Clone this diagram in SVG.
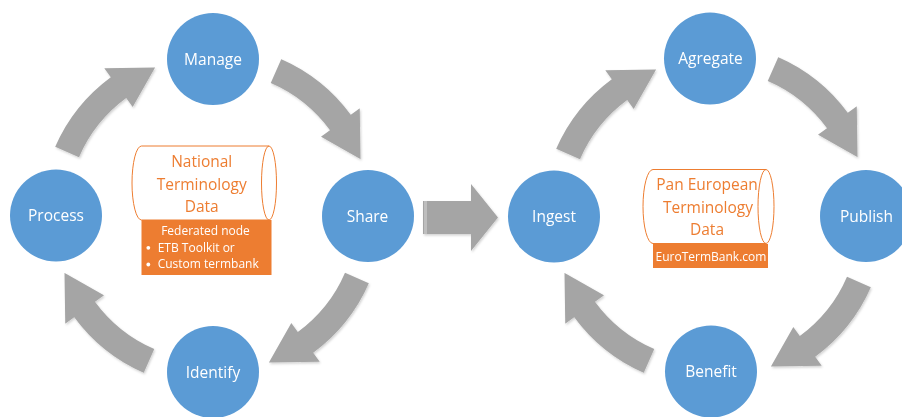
<svg xmlns="http://www.w3.org/2000/svg" width="902" height="417" viewBox="0 0 902 417">
<defs>
<style>
.node{fill:#5B9BD5}
.lbl{font-family:"Open Sans","Liberation Sans",sans-serif;font-size:15.5px;fill:#FFFFFF;text-anchor:middle}
.arr{fill:#A5A5A5}
.cyl{fill:#FFFFFF;stroke:#ED7D31;stroke-width:1}
.cylin{fill:none;stroke:#ED7D31;stroke-width:1}
.ctext{font-family:"Open Sans","Liberation Sans",sans-serif;font-size:15.5px;fill:#ED7D31;text-anchor:middle}
.box{fill:#ED7D31}
.btext{font-family:"Open Sans","Liberation Sans",sans-serif;font-size:12px;fill:#FFFFFF}
</style>
<filter id="sh" x="-20%" y="-20%" width="140%" height="140%">
<feDropShadow dx="1" dy="1.5" stdDeviation="1.2" flood-color="#000" flood-opacity="0.18"/>
</filter>
</defs>
<rect width="902" height="417" fill="#FFFFFF"/>

<g id="connectors" filter="url(#sh)">
<path class="arr" transform="translate(212,215)" d="M-156.8,-68.2 A171,171 0 0 1 -101.2,-137.8 L-107.7,-146.7 L-56.9,-147.4 L-79.3,-108 L-85.8,-116.9 A145,145 0 0 0 -133,-57.8 Z"/>
<path class="arr" transform="translate(213,216) rotate(90)" d="M-156.8,-68.2 A171,171 0 0 1 -101.2,-137.8 L-107.7,-146.7 L-56.9,-147.4 L-79.3,-108 L-85.8,-116.9 A145,145 0 0 0 -133,-57.8 Z"/>
<path class="arr" transform="translate(212,215) rotate(180)" d="M-156.8,-68.2 A171,171 0 0 1 -101.2,-137.8 L-107.7,-146.7 L-56.9,-147.4 L-79.3,-108 L-85.8,-116.9 A145,145 0 0 0 -133,-57.8 Z"/>
<path class="arr" transform="translate(212,216) rotate(270)" d="M-156.8,-68.2 A171,171 0 0 1 -101.2,-137.8 L-107.7,-146.7 L-56.9,-147.4 L-79.3,-108 L-85.8,-116.9 A145,145 0 0 0 -133,-57.8 Z"/>
<path class="arr" transform="translate(713,217)" d="M-156.8,-68.2 A171,171 0 0 1 -101.2,-137.8 L-107.7,-146.7 L-56.9,-147.4 L-79.3,-108 L-85.8,-116.9 A145,145 0 0 0 -133,-57.8 Z"/>
<path class="arr" transform="translate(710,214) rotate(90)" d="M-156.8,-68.2 A171,171 0 0 1 -101.2,-137.8 L-107.7,-146.7 L-56.9,-147.4 L-79.3,-108 L-85.8,-116.9 A145,145 0 0 0 -133,-57.8 Z"/>
<path class="arr" transform="translate(714,219) rotate(180)" d="M-156.8,-68.2 A171,171 0 0 1 -101.2,-137.8 L-107.7,-146.7 L-56.9,-147.4 L-79.3,-108 L-85.8,-116.9 A145,145 0 0 0 -133,-57.8 Z"/>
<path class="arr" transform="translate(712,216) rotate(270)" d="M-156.8,-68.2 A171,171 0 0 1 -101.2,-137.8 L-107.7,-146.7 L-56.9,-147.4 L-79.3,-108 L-85.8,-116.9 A145,145 0 0 0 -133,-57.8 Z"/>
<path class="arr" d="M423,201 L471,201 L471,184 L498,217.5 L471,251 L471,234 L423,234 Z"/>
<rect x="424" y="201" width="3" height="33" fill="#BEBEBE"/>
</g>

<g id="node-manage"><circle class="node" cx="213" cy="59" r="46"/><text class="lbl" x="213" y="64.5">Manage</text></g>
<g id="node-process"><circle class="node" cx="56" cy="215.5" r="46"/><text class="lbl" x="56" y="221">Process</text></g>
<g id="node-share"><circle class="node" cx="368" cy="216" r="46"/><text class="lbl" x="367.5" y="221.5">Share</text></g>
<g id="node-identify"><circle class="node" cx="213" cy="372" r="46"/><text class="lbl" x="213" y="377.5">Identify</text></g>
<g id="node-ingest"><circle class="node" cx="554" cy="216.5" r="46"/><text class="lbl" x="554" y="222">Ingest</text></g>
<g id="node-agregate"><circle class="node" cx="710" cy="58.5" r="46"/><text class="lbl" x="710.5" y="64">Agregate</text></g>
<g id="node-publish"><circle class="node" cx="866" cy="216" r="46"/><text class="lbl" x="866.5" y="221.5">Publish</text></g>
<g id="node-benefit"><circle class="node" cx="711" cy="371.5" r="46"/><text class="lbl" x="711" y="377">Benefit</text></g>

<g id="node-national">
<path class="cyl" d="M141.5,146 L269,146 A7.5,37 0 0 1 269,220 L141.5,220 A9.5,37 0 0 1 141.5,146 Z"/>
<path class="cylin" d="M269,146 A7.5,37 0 0 0 269,220"/>
<text class="ctext" x="201.7" y="167.3">National</text>
<text class="ctext" x="201.7" y="189.8">Terminology</text>
<text class="ctext" x="201.7" y="211.7">Data</text>
<rect class="box" x="141.5" y="220" width="130" height="55"/>
<text class="btext" x="205.5" y="235" text-anchor="middle">Federated node</text>
<circle cx="148.3" cy="247.8" r="1.9" fill="#FFFFFF"/>
<text class="btext" x="157.7" y="251.7">ETB Toolkit or</text>
<circle cx="148.3" cy="264.5" r="1.9" fill="#FFFFFF"/>
<text class="btext" x="157.7" y="268.3">Custom termbank</text>
</g>

<g id="node-paneuropean">
<path class="cyl" d="M653,169.5 L766,169.5 A8,37 0 0 1 766,243.5 L653,243.5 A10,37 0 0 1 653,169.5 Z"/>
<path class="cylin" d="M766,169.5 A8,37 0 0 0 766,243.5"/>
<text class="ctext" x="707" y="190">Pan European</text>
<text class="ctext" x="708" y="213">Terminology</text>
<text class="ctext" x="707" y="235">Data</text>
<rect class="box" x="653" y="244" width="115" height="24"/>
<text class="btext" x="711" y="261" text-anchor="middle">EuroTermBank.com</text>
</g>
</svg>
